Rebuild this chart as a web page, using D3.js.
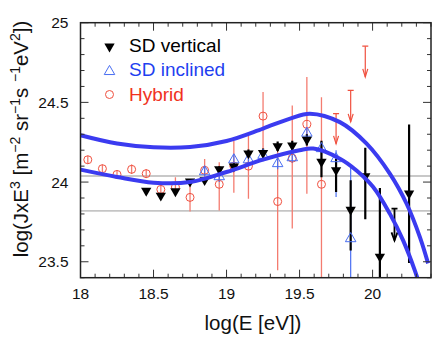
<!DOCTYPE html>
<html><head><meta charset="utf-8">
<script src="https://cdn.jsdelivr.net/npm/d3@7"></script>
<style>body{margin:0;background:#fff}svg{display:block}text{font-family:"Liberation Sans",Arial,Helvetica,sans-serif}</style>
</head><body>
<svg id="c" width="436" height="341"></svg>
<script>
// ---- data ----
const xTicks = [18, 18.5, 19, 19.5, 20];
const xTickLabels = ["18", "18.5", "19", "19.5", "20"];
const yTicks = [23.5, 24, 24.5, 25];
const yTickLabels = ["23.5", "24", "24.5", "25"];
const refLines = [24.038, 23.819];

const sdVertE   = [18.45, 18.55, 18.65, 18.75, 18.85, 18.95, 19.05, 19.15, 19.25, 19.35, 19.45, 19.55, 19.65, 19.75, 19.85, 19.95, 20.05, 20.25];
const sdVertVal = [23.945, 23.915, 23.942, 24.004, 24.012, 24.08, 24.098, 24.18, 24.182, 24.225, 24.23, 24.265, 24.128, 24.075, 23.826, 24.036, 23.532, 23.928];
const sdVertLo  = [23.945, 23.915, 23.942, 23.99, 23.995, 24.06, 24.075, 24.155, 24.155, 24.195, 24.2, 24.23, 24.03, 23.937, 23.571, 23.766, 23.3, 23.492];
const sdVertHi  = [23.945, 23.915, 23.942, 24.02, 24.03, 24.1, 24.12, 24.205, 24.21, 24.255, 24.26, 24.3, 24.26, 24.147, 24.011, 24.216, 23.963, 24.362];
const sdVertLimE = [20.15], sdVertLimTop = [23.833], sdVertLimTip = [23.634];

const sdInclE   = [18.85, 18.95, 19.05, 19.15, 19.25, 19.35, 19.45, 19.55, 19.65, 19.75, 19.85];
const sdInclVal = [24.065, 24.034, 24.14, 24.14, 24.168, 24.116, 24.153, 24.307, 24.21, 24.147, 23.645];
const sdInclLo  = [24.035, 24.0, 24.105, 24.105, 24.13, 24.08, 24.12, 24.27, 24.17, 23.906, 23.3];
const sdInclHi  = [24.095, 24.065, 24.175, 24.175, 24.205, 24.15, 24.19, 24.34, 24.25, 24.2, 24.094];

const hybE   = [18.05, 18.15, 18.25, 18.35, 18.45, 18.55, 18.65, 18.75, 18.85, 18.95, 19.05, 19.15, 19.25, 19.35, 19.45, 19.55, 19.65];
const hybVal = [24.14, 24.084, 24.048, 24.08, 24.053, 23.954, 23.969, 23.904, 24.074, 23.986, 24.10, 24.10, 24.414, 23.878, 24.15, 24.362, 23.986];
const hybLo  = [24.115, 24.06, 24.025, 24.05, 24.025, 23.93, 23.94, 23.816, 24.0, 23.822, 23.933, 23.896, 24.157, 23.446, 23.708, 23.927, 23.3];
const hybHi  = [24.165, 24.11, 24.07, 24.11, 24.08, 23.98, 24.03, 24.0, 24.145, 24.125, 24.257, 24.293, 24.565, 24.22, 24.481, 24.659, 24.533];
const hybLimE = [19.75, 19.85, 19.95], hybLimTop = [24.43, 24.575, 24.853], hybLimTip = [24.24, 24.378, 24.66];

const upperCurveE = [18.0, 18.25, 18.5, 18.75, 19.0, 19.25, 19.435, 19.571, 19.776, 19.959, 20.118, 20.233, 20.324, 20.38];
const upperCurveV = [24.294, 24.242, 24.218, 24.22, 24.258, 24.336, 24.398, 24.429, 24.376, 24.241, 24.053, 23.864, 23.655, 23.49];
const lowerCurveE = [18.0, 18.25, 18.5, 18.75, 19.0, 19.25, 19.5, 19.594, 19.776, 19.89, 20.004, 20.118, 20.209, 20.289, 20.33];
const lowerCurveV = [24.078, 24.032, 23.996, 24.0, 24.063, 24.141, 24.2, 24.21, 24.147, 24.073, 23.969, 23.802, 23.634, 23.446, 23.33];

const legendNames = ["SD vertical", "SD inclined", "Hybrid"];

// ---- drawing ----
const svg = d3.select("#c");
const L = 80.5, R = 431, T = 22.7, B = 277.7;
const x = d3.scaleLinear().domain([18, 20.4]).range([L, R]);
const y = d3.scaleLinear().domain([23.4, 25]).range([B, T]);

const BLUE = "#3b3bf0", RED = "#f0503f", RED_BAR = "#f47c70", TRI_BLUE = "#4a6ff2";

svg.append("defs").append("clipPath").attr("id", "clip")
  .append("rect").attr("x", L).attr("y", T).attr("width", R - L).attr("height", B - T);

const plot = svg.append("g").attr("clip-path", "url(#clip)");

// reference lines
plot.append("line").attr("x1", L).attr("x2", R).attr("y1", y(refLines[0])).attr("y2", y(refLines[0]))
  .attr("stroke", "#c8c8c8").attr("stroke-width", 2);
plot.append("line").attr("x1", L).attr("x2", R).attr("y1", y(refLines[1])).attr("y2", y(refLines[1]))
  .attr("stroke", "#9a9a9a").attr("stroke-width", 1);

// hybrid error bars
hybE.forEach((e, i) => {
  plot.append("line").attr("x1", x(e)).attr("x2", x(e)).attr("y1", y(hybLo[i])).attr("y2", y(hybHi[i]))
    .attr("stroke", RED_BAR).attr("stroke-width", 1.3);
});
// hybrid upper limits
function upperLimit(g, e, top, tip, color, w, capW, headW, headH) {
  const cx = x(e);
  g.append("line").attr("x1", cx).attr("x2", cx).attr("y1", y(top)).attr("y2", y(tip)).attr("stroke", color).attr("stroke-width", w);
  g.append("line").attr("x1", cx - capW).attr("x2", cx + capW).attr("y1", y(top)).attr("y2", y(top)).attr("stroke", color).attr("stroke-width", w);
  g.append("path").attr("d", `M${cx - headW},${y(tip) - headH}L${cx},${y(tip)}L${cx + headW},${y(tip) - headH}`)
    .attr("fill", "none").attr("stroke", color).attr("stroke-width", w);
}
hybLimE.forEach((e, i) => upperLimit(plot, e, hybLimTop[i], hybLimTip[i], RED, 1.2, 3, 2.5, 8));

// blue error bars
sdInclE.forEach((e, i) => {
  plot.append("line").attr("x1", x(e)).attr("x2", x(e)).attr("y1", y(sdInclLo[i])).attr("y2", y(sdInclHi[i]))
    .attr("stroke", TRI_BLUE).attr("stroke-width", 1.2);
});
// black error bars
sdVertE.forEach((e, i) => {
  if (sdVertHi[i] - sdVertLo[i] > 0.001)
    plot.append("line").attr("x1", x(e)).attr("x2", x(e)).attr("y1", y(sdVertLo[i])).attr("y2", y(sdVertHi[i]))
      .attr("stroke", "#000").attr("stroke-width", 2.2);
});
sdVertLimE.forEach((e, i) => upperLimit(plot, e, sdVertLimTop[i], sdVertLimTip[i], "#000", 1.8, 3, 3, 8));

// markers
const triDown = d3.symbol().type(d3.symbolTriangle).size(46);
const triUp = d3.symbol().type(d3.symbolTriangle).size(48);

plot.selectAll(".hyb").data(hybE).join("circle")
  .attr("cx", d => x(d)).attr("cy", (d, i) => y(hybVal[i])).attr("r", 4)
  .attr("fill", "none").attr("stroke", RED).attr("stroke-width", 1);

plot.selectAll(".incl").data(sdInclE).join("path")
  .attr("d", triUp).attr("transform", (d, i) => `translate(${x(d)},${y(sdInclVal[i])})`)
  .attr("fill", "none").attr("stroke", TRI_BLUE).attr("stroke-width", 1);

plot.selectAll(".vert").data(sdVertE).join("path")
  .attr("d", triDown).attr("transform", (d, i) => `translate(${x(d)},${y(sdVertVal[i])}) rotate(180)`)
  .attr("fill", "#000");

// curves
const line = d3.line().x(d => x(d[0])).y(d => y(d[1])).curve(d3.curveCatmullRom.alpha(0.5));
plot.append("path").attr("d", line(upperCurveE.map((e, i) => [e, upperCurveV[i]])))
  .attr("fill", "none").attr("stroke", BLUE).attr("stroke-width", 4);
plot.append("path").attr("d", line(lowerCurveE.map((e, i) => [e, lowerCurveV[i]])))
  .attr("fill", "none").attr("stroke", BLUE).attr("stroke-width", 4);

// frame and ticks
const axisG = svg.append("g");
const tickColor = "#333";
d3.range(18, 20.4001, 0.1).forEach(v => {
  const major = Math.abs(v * 2 - Math.round(v * 2)) < 1e-6;
  const len = major ? 8 : 4;
  axisG.append("line").attr("x1", x(v)).attr("x2", x(v)).attr("y1", B).attr("y2", B - len).attr("stroke", tickColor).attr("stroke-width", 1);
  axisG.append("line").attr("x1", x(v)).attr("x2", x(v)).attr("y1", T).attr("y2", T + len).attr("stroke", tickColor).attr("stroke-width", 1);
});
d3.range(23.4, 25.0001, 0.1).forEach(v => {
  const major = Math.abs(v * 2 - Math.round(v * 2)) < 1e-6;
  const len = major ? 8 : 4;
  axisG.append("line").attr("y1", y(v)).attr("y2", y(v)).attr("x1", L).attr("x2", L + len).attr("stroke", tickColor).attr("stroke-width", 1);
  axisG.append("line").attr("y1", y(v)).attr("y2", y(v)).attr("x1", R).attr("x2", R - len).attr("stroke", tickColor).attr("stroke-width", 1);
});
axisG.append("rect").attr("x", L).attr("y", T).attr("width", R - L).attr("height", B - T)
  .attr("fill", "none").attr("stroke", "#222").attr("stroke-width", 1.5);

// tick labels
svg.selectAll(".xl").data(xTicks).join("text")
  .attr("x", d => x(d)).attr("y", 298.5).attr("text-anchor", "middle")
  .attr("font-size", 15.5).attr("fill", "#111").text((d, i) => xTickLabels[i]);
svg.selectAll(".yl").data(yTicks).join("text")
  .attr("x", 68.5).attr("y", d => y(d) + 5.5).attr("text-anchor", "end")
  .attr("font-size", 15.5).attr("fill", "#111").text((d, i) => yTickLabels[i]);

// axis titles
svg.append("text").attr("x", 253).attr("y", 330).attr("text-anchor", "middle")
  .attr("font-size", 20.5).attr("fill", "#111").text("log(E [eV])");

const yt = svg.append("text").attr("transform", "translate(27.5,139) rotate(-90)")
  .attr("text-anchor", "middle").attr("font-size", 20.5).attr("fill", "#111");
const parts = [["log(JxE", 0], ["3", 1], [" [m", 0], ["\u22122", 1], [" sr", 0], ["\u22121", 1], ["s ", 0], ["\u22121", 1], ["eV", 0], ["2", 1], ["])", 0]];
let prevSup = false;
parts.forEach(([t, sup]) => {
  const ts = yt.append("tspan").text(t);
  if (sup) { ts.attr("font-size", 14).attr("dy", prevSup ? 0 : -8); prevSup = true; }
  else { if (prevSup) ts.attr("dy", 8); prevSup = false; }
});

// legend
const lg = svg.append("g");
lg.append("path").attr("d", triDown).attr("transform", "translate(109.5,46.5) rotate(180)").attr("fill", "#000");
lg.append("path").attr("d", triUp).attr("transform", "translate(109.5,71.5)").attr("fill", "none").attr("stroke", TRI_BLUE).attr("stroke-width", 1);
lg.append("circle").attr("cx", 109.5).attr("cy", 94.5).attr("r", 4).attr("fill", "none").attr("stroke", RED).attr("stroke-width", 1);
const legColors = ["#000", "#1f3ff0", "#f0321e"];
const legY = [52, 76, 101];
legendNames.forEach((n, i) => {
  lg.append("text").attr("x", 129).attr("y", legY[i]).attr("font-size", 19).attr("fill", legColors[i]).text(n);
});
</script>
</body></html>
